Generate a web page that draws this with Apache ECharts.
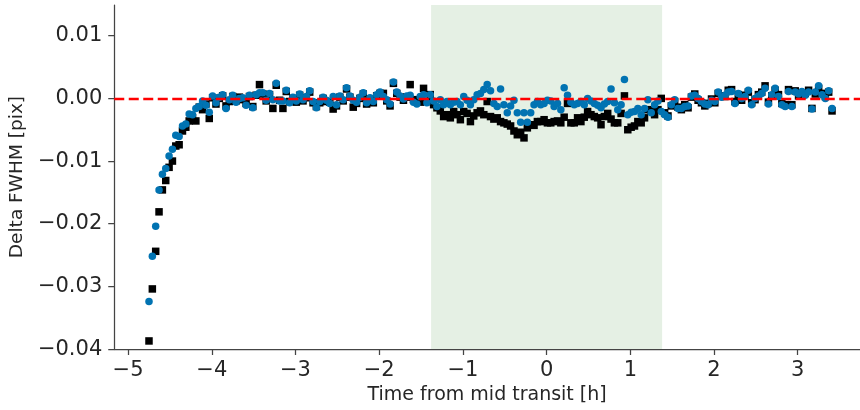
<!DOCTYPE html>
<html>
<head>
<meta charset="utf-8">
<script src="https://cdn.jsdelivr.net/npm/echarts@6/dist/echarts.min.js"></script>
<style>html,body{margin:0;padding:0;background:#fff}#c{width:860px;height:410px}</style>
</head>
<body>
<div id="c"></div>
<script>
// Time from mid transit [h]
const times = [
-4.75,-4.71,-4.67,-4.63,-4.59,-4.55,-4.51,-4.47,-4.43,-4.39,
-4.35,-4.31,-4.27,-4.23,-4.19,-4.15,-4.11,-4.07,-4.03,-3.99,
-3.95,-3.91,-3.87,-3.83,-3.79,-3.75,-3.71,-3.67,-3.63,-3.59,
-3.55,-3.51,-3.47,-3.43,-3.39,-3.35,-3.31,-3.27,-3.23,-3.19,
-3.15,-3.11,-3.07,-3.03,-2.99,-2.95,-2.91,-2.87,-2.83,-2.79,
-2.75,-2.71,-2.67,-2.63,-2.59,-2.55,-2.51,-2.47,-2.43,-2.39,
-2.35,-2.31,-2.27,-2.23,-2.19,-2.15,-2.11,-2.07,-2.03,-1.99,
-1.95,-1.91,-1.87,-1.83,-1.79,-1.75,-1.71,-1.67,-1.63,-1.59,
-1.55,-1.51,-1.47,-1.43,-1.39,-1.35,-1.31,-1.27,-1.23,-1.19,
-1.15,-1.11,-1.07,-1.03,-0.99,-0.95,-0.91,-0.87,-0.83,-0.79,
-0.75,-0.71,-0.67,-0.63,-0.59,-0.55,-0.51,-0.47,-0.43,-0.39,
-0.35,-0.31,-0.27,-0.23,-0.19,-0.15,-0.11,-0.07,-0.03,0.01,
0.05,0.09,0.13,0.17,0.21,0.25,0.29,0.33,0.37,0.41,
0.45,0.49,0.53,0.57,0.61,0.65,0.69,0.73,0.77,0.81,
0.85,0.89,0.93,0.97,1.01,1.05,1.09,1.13,1.17,1.21,
1.25,1.29,1.33,1.37,1.41,1.45,1.49,1.53,1.57,1.61,
1.65,1.69,1.73,1.77,1.81,1.85,1.89,1.93,1.97,2.01,
2.05,2.09,2.13,2.17,2.21,2.25,2.29,2.33,2.37,2.41,
2.45,2.49,2.53,2.57,2.61,2.65,2.69,2.73,2.77,2.81,
2.85,2.89,2.93,2.97,3.01,3.05,3.09,3.13,3.17,3.21,
3.25,3.29,3.33,3.37,3.41
];
// Delta FWHM [pix], blue circles
const blueVals = [
-0.0324,-0.0252,-0.0204,-0.0146,-0.0121,-0.0112,-0.0092,-0.0081,-0.0059,-0.0061,
-0.0044,-0.0041,-0.0025,-0.0026,-0.0016,-0.0013,-0.0004,-0.0011,-0.0022,0.0004,
-0.0007,0.0002,0.0006,-0.0016,-0.0002,0.0005,-0.0006,0.0000,0.0001,-0.0011,
0.0005,-0.0015,0.0006,0.0009,0.0009,-0.0003,0.0008,-0.0002,0.0024,-0.0004,
-0.0004,0.0013,-0.0007,0.0002,-0.0004,0.0007,-0.0002,0.0003,0.0012,-0.0005,
-0.0015,-0.0005,0.0002,-0.0003,-0.0008,0.0003,-0.0010,0.0004,-0.0002,0.0017,
0.0004,-0.0003,-0.0006,0.0002,0.0009,-0.0007,0.0001,-0.0005,0.0006,0.0010,
0.0003,-0.0002,-0.0009,0.0026,0.0010,0.0004,-0.0001,0.0004,0.0005,-0.0006,
-0.0009,0.0003,0.0006,-0.0007,0.0006,-0.0004,-0.0013,-0.0002,-0.0010,-0.0005,
-0.0010,-0.0006,-0.0005,-0.0010,0.0003,-0.0003,-0.0010,-0.0002,0.0006,0.0008,
0.0014,0.0022,0.0012,-0.0008,-0.0013,0.0015,-0.0010,-0.0023,-0.0012,-0.0003,
-0.0023,-0.0038,-0.0023,-0.0038,-0.0023,-0.0010,-0.0005,-0.0010,-0.0008,-0.0003,
-0.0004,-0.0013,-0.0008,-0.0018,0.0017,0.0005,-0.0006,-0.0010,-0.0008,-0.0005,
-0.0010,0.0000,-0.0004,-0.0008,-0.0011,-0.0015,-0.0009,-0.0005,0.0015,-0.0007,
-0.0018,-0.0010,0.0030,-0.0026,-0.0022,-0.0021,-0.0016,-0.0026,-0.0016,-0.0002,
-0.0023,-0.0010,-0.0004,-0.0021,-0.0026,-0.0030,-0.0010,-0.0002,-0.0016,-0.0016,
-0.0013,-0.0012,0.0004,0.0005,0.0000,-0.0005,-0.0009,-0.0010,-0.0003,-0.0005,
0.0010,0.0002,0.0005,0.0010,0.0011,-0.0008,0.0008,0.0000,0.0003,0.0013,
-0.0010,0.0000,0.0004,0.0008,0.0016,-0.0009,0.0006,0.0016,0.0003,-0.0010,
-0.0013,0.0011,-0.0013,0.0010,0.0007,0.0011,0.0005,0.0010,-0.0017,0.0010,
0.0020,0.0006,0.0000,0.0012,-0.0016
];
// Delta FWHM [pix], black squares
const blackVals = [
-0.0387,-0.0304,-0.0244,-0.0181,-0.0146,-0.0131,-0.0110,-0.0100,-0.0076,-0.0074,
-0.0052,-0.0046,-0.0036,-0.0031,-0.0036,-0.0014,-0.0018,-0.0009,-0.0032,0.0001,
-0.0009,0.0000,0.0004,-0.0012,-0.0005,0.0003,-0.0004,0.0002,-0.0002,-0.0008,
0.0003,-0.0013,0.0005,0.0022,0.0007,-0.0004,0.0006,-0.0016,0.0021,-0.0003,
-0.0016,0.0011,-0.0005,0.0000,-0.0006,0.0005,-0.0004,0.0001,0.0010,-0.0007,
-0.0013,-0.0007,0.0000,-0.0005,-0.0006,-0.0017,-0.0012,0.0002,-0.0004,0.0015,
0.0002,-0.0014,-0.0008,0.0000,0.0007,-0.0009,-0.0001,-0.0007,0.0004,0.0008,
0.0008,-0.0004,-0.0012,0.0024,0.0008,0.0002,-0.0003,0.0002,0.0022,-0.0002,
-0.0003,-0.0006,0.0016,-0.0005,0.0006,-0.0010,-0.0015,-0.0020,-0.0029,-0.0026,
-0.0031,-0.0021,-0.0026,-0.0034,-0.0021,-0.0024,-0.0037,-0.0028,-0.0023,-0.0020,
-0.0026,-0.0005,-0.0029,-0.0033,-0.0031,-0.0037,-0.0039,-0.0041,-0.0044,-0.0052,
-0.0058,-0.0054,-0.0063,-0.0047,-0.0042,-0.0043,-0.0037,-0.0037,-0.0034,-0.0039,
-0.0039,-0.0037,-0.0036,-0.0039,-0.0030,-0.0008,-0.0039,-0.0039,-0.0031,-0.0037,
-0.0030,-0.0021,-0.0026,-0.0029,-0.0031,-0.0042,-0.0029,-0.0024,-0.0033,-0.0039,
-0.0039,-0.0024,0.0004,-0.0050,-0.0046,-0.0044,-0.0037,-0.0039,-0.0031,-0.0018,
-0.0020,-0.0026,-0.0018,0.0000,-0.0023,-0.0028,-0.0012,-0.0005,-0.0014,-0.0018,
-0.0010,-0.0015,0.0002,0.0007,-0.0003,-0.0007,-0.0012,-0.0008,-0.0001,-0.0007,
0.0008,0.0004,0.0003,0.0013,0.0014,-0.0005,0.0006,-0.0003,0.0005,0.0010,
-0.0007,-0.0002,0.0006,0.0010,0.0020,-0.0006,0.0004,0.0013,0.0006,-0.0008,
-0.0010,0.0014,-0.0010,0.0012,0.0004,0.0009,0.0008,0.0013,-0.0016,0.0007,
0.0016,0.0008,0.0003,0.0010,-0.0020
];
// Ticks
const xTicks = [-5,-4,-3,-2,-1,0,1,2,3];
const yTicks = [-0.04,-0.03,-0.02,-0.01,0.00,0.01];
// Transit window [h] and reference level
const transitWindow = [-1.38, 1.38];
const refLevel = 0;

const MINUS = '\u2212';
const fmtX = v => (v < 0 ? MINUS + Math.abs(v) : String(v));
const fmtY = v => (v < -1e-9 ? MINUS : '') + Math.abs(v).toFixed(2);
const txt = '#262626';
const font = 'DejaVu Sans';

const chart = echarts.init(document.getElementById('c'), null, {renderer: 'canvas'});
chart.setOption({
  animation: false,
  backgroundColor: '#ffffff',
  grid: {left: 114, right: 0, top: 5, bottom: 59, containLabel: false},
  xAxis: {
    type: 'value', min: -5.165, max: 3.744,
    name: 'Time from mid transit [h]', nameLocation: 'middle', nameGap: 35,
    nameTextStyle: {fontFamily: font, fontSize: 19, color: txt},
    axisLine: {show: true, onZero: false, lineStyle: {color: '#444', width: 1.25}},
    axisTick: {show: true, length: 6, inside: false, customValues: xTicks, lineStyle: {color: '#444', width: 1.25}},
    axisLabel: {customValues: xTicks, formatter: fmtX, margin: 11, fontFamily: font, fontSize: 21, color: txt},
    splitLine: {show: false}
  },
  yAxis: {
    type: 'value', min: -0.04, max: 0.0149,
    name: 'Delta FWHM [pix]', nameLocation: 'middle', nameGap: 83,
    nameTextStyle: {fontFamily: font, fontSize: 18.5, color: txt},
    axisLine: {show: true, onZero: false, lineStyle: {color: '#444', width: 1.25}},
    axisTick: {show: true, length: 6, inside: false, customValues: yTicks, lineStyle: {color: '#444', width: 1.25}},
    axisLabel: {customValues: yTicks, formatter: fmtY, margin: 12, fontFamily: font, fontSize: 21, color: txt},
    splitLine: {show: false}
  },
  series: [
    {
      type: 'scatter', data: [], z: 1, silent: true,
      markArea: {silent: true, itemStyle: {color: '#e5f0e4'},
        data: [[{xAxis: transitWindow[0]}, {xAxis: transitWindow[1]}]]}
    },
    {
      type: 'scatter', symbol: 'rect', symbolSize: 7.5, z: 2,
      itemStyle: {color: '#000000', opacity: 1},
      data: times.map((t, i) => [t, blackVals[i]])
    },
    {
      type: 'scatter', symbol: 'circle', symbolSize: 7.5, z: 3,
      itemStyle: {color: '#0173b2', opacity: 1},
      data: times.map((t, i) => [t, blueVals[i]])
    },
    {
      type: 'scatter', data: [], z: 4, silent: true,
      markLine: {silent: true, symbol: ['none', 'none'], label: {show: false},
        lineStyle: {color: '#ff0000', width: 2.3, type: [10, 4.5]},
        data: [{yAxis: refLevel}]}
    }
  ]
});
</script>
</body>
</html>
